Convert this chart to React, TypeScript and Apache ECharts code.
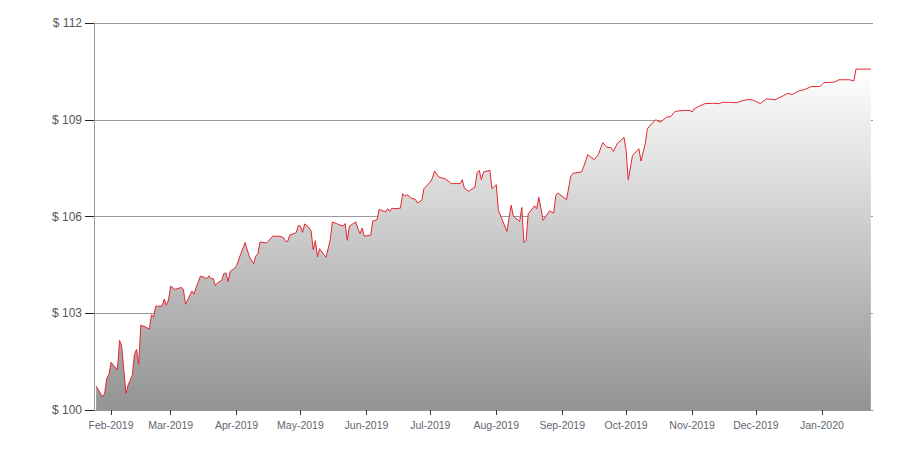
import React, { useEffect, useRef } from "react";
import * as echarts from "echarts";

const dates: string[] = [
  "2019-01-25","2019-01-28","2019-01-29","2019-01-30","2019-01-31","2019-02-01","2019-02-04","2019-02-05","2019-02-06","2019-02-08",
  "2019-02-09","2019-02-11","2019-02-12","2019-02-13","2019-02-14","2019-02-15","2019-02-17","2019-02-19","2019-02-20","2019-02-21",
  "2019-02-22","2019-02-25","2019-02-26","2019-02-27","2019-02-28","2019-03-01","2019-03-03","2019-03-06","2019-03-07","2019-03-08",
  "2019-03-11","2019-03-12","2019-03-13","2019-03-15","2019-03-17","2019-03-18","2019-03-19","2019-03-20","2019-03-21","2019-03-22",
  "2019-03-23","2019-03-25","2019-03-26","2019-03-27","2019-03-28","2019-03-29","2019-03-31","2019-04-01","2019-04-03","2019-04-05",
  "2019-04-07","2019-04-09","2019-04-10","2019-04-11","2019-04-12","2019-04-15","2019-04-16","2019-04-18","2019-04-21","2019-04-23",
  "2019-04-24","2019-04-25","2019-04-26","2019-04-28","2019-04-29","2019-04-30","2019-05-01","2019-05-02","2019-05-03","2019-05-05",
  "2019-05-06","2019-05-07","2019-05-08","2019-05-09","2019-05-10","2019-05-13","2019-05-15","2019-05-16","2019-05-18","2019-05-21",
  "2019-05-22","2019-05-23","2019-05-24","2019-05-27","2019-05-28","2019-05-29","2019-05-30","2019-05-31","2019-06-03","2019-06-04",
  "2019-06-06","2019-06-07","2019-06-10","2019-06-11","2019-06-12","2019-06-13","2019-06-14","2019-06-17","2019-06-18","2019-06-19",
  "2019-06-20","2019-06-22","2019-06-24","2019-06-25","2019-06-27","2019-06-28","2019-07-01","2019-07-02","2019-07-03","2019-07-05",
  "2019-07-08","2019-07-11","2019-07-14","2019-07-15","2019-07-16","2019-07-17","2019-07-19","2019-07-22","2019-07-23","2019-07-24",
  "2019-07-25","2019-07-26","2019-07-29","2019-07-30","2019-08-01","2019-08-02","2019-08-06","2019-08-08","2019-08-09","2019-08-12",
  "2019-08-13","2019-08-14","2019-08-15","2019-08-16","2019-08-19","2019-08-20","2019-08-21","2019-08-23","2019-08-26","2019-08-28",
  "2019-08-29","2019-08-30","2019-09-03","2019-09-05","2019-09-06","2019-09-10","2019-09-11","2019-09-13","2019-09-14","2019-09-16",
  "2019-09-18","2019-09-20","2019-09-22","2019-09-24","2019-09-25","2019-09-27","2019-09-29","2019-09-30","2019-10-01","2019-10-02",
  "2019-10-04","2019-10-07","2019-10-08","2019-10-10","2019-10-11","2019-10-13","2019-10-15","2019-10-17","2019-10-20","2019-10-22",
  "2019-10-24","2019-10-28","2019-10-31","2019-11-01","2019-11-02","2019-11-04","2019-11-07","2019-11-11","2019-11-14","2019-11-15",
  "2019-11-18","2019-11-22","2019-11-25","2019-11-28","2019-11-30","2019-12-03","2019-12-06","2019-12-10","2019-12-14","2019-12-16",
  "2019-12-18","2019-12-21","2019-12-24","2019-12-27","2019-12-31","2020-01-02","2020-01-07","2020-01-09","2020-01-14","2020-01-16",
  "2020-01-17","2020-01-24",
];

const values: number[] = [
  100.74,100.41,100.52,100.98,101.10,101.48,101.24,102.16,101.98,100.52,
  100.77,101.08,101.72,101.88,101.42,102.63,102.58,102.51,102.95,102.89,
  103.22,103.22,103.44,103.25,103.41,103.84,103.74,103.80,103.74,103.28,
  103.69,103.59,103.80,104.15,104.11,104.07,104.16,104.07,104.08,103.86,
  103.94,104.02,104.23,104.25,103.98,104.30,104.39,104.48,104.85,105.19,
  104.75,104.54,104.77,104.85,105.21,105.18,105.24,105.39,105.39,105.35,
  105.23,105.23,105.43,105.47,105.50,105.72,105.70,105.51,105.77,105.66,
  105.55,104.97,105.25,104.75,105.00,104.73,105.28,105.83,105.78,105.70,
  105.78,105.26,105.70,105.83,105.62,105.47,105.64,105.39,105.42,105.86,
  105.90,106.22,106.14,106.24,106.16,106.26,106.24,106.26,106.71,106.63,
  106.68,106.57,106.53,106.42,106.50,106.86,107.07,107.19,107.41,107.22,
  107.17,107.02,107.02,107.02,107.14,106.88,106.78,106.91,107.36,107.43,
  107.14,107.38,107.43,106.86,106.99,106.19,105.54,106.35,106.01,105.85,
  106.28,105.19,105.26,106.08,106.33,106.24,106.60,105.88,106.17,106.11,
  106.66,106.73,106.52,107.25,107.34,107.38,107.53,107.92,107.86,107.76,
  107.93,108.29,108.15,108.13,108.02,108.28,108.38,108.46,108.05,107.14,
  107.89,108.10,107.72,108.26,108.72,108.88,109.00,108.92,109.08,109.10,
  109.26,109.29,109.29,109.24,109.34,109.41,109.50,109.51,109.50,109.54,
  109.54,109.53,109.60,109.63,109.60,109.50,109.65,109.62,109.75,109.82,
  109.78,109.89,109.94,110.03,110.03,110.15,110.17,110.24,110.24,110.20,
  110.57,110.57,
];

const monthTicks: string[] = [
  "2019-02-01","2019-03-01","2019-04-01","2019-05-01","2019-06-01","2019-07-01",
  "2019-08-01","2019-09-01","2019-10-01","2019-11-01","2019-12-01","2020-01-01",
];
const monthNames: string[] = ["Jan","Feb","Mar","Apr","May","Jun","Jul","Aug","Sep","Oct","Nov","Dec"];
const yTicks = { min: 100, max: 112, interval: 3 };
const xRange = { min: "2019-01-24", max: "2020-01-25" };

function toTime(s: string): number {
  const [y, m, d] = s.split("-").map(Number);
  return new Date(y, m - 1, d).getTime();
}

export default function App() {
  const ref = useRef<HTMLDivElement>(null);
  useEffect(() => {
    if (!ref.current) return;
    const chart = echarts.init(ref.current, undefined, { renderer: "svg" });
    const tickTimes = monthTicks.map(toTime);
    chart.setOption({
      animation: false,
      backgroundColor: "#ffffff",
      grid: { left: 94, right: 27, top: 23, bottom: 40, containLabel: false },
      xAxis: {
        type: "value",
        min: toTime(xRange.min),
        max: toTime(xRange.max),
        axisLine: { show: true, lineStyle: { color: "#999999", width: 1 } },
        axisTick: { show: true, length: 5, lineStyle: { color: "#333333" }, customValues: tickTimes },
        axisLabel: {
          customValues: tickTimes,
          color: "#5f6670",
          fontSize: 10.5,
          fontFamily: "Liberation Sans, Arial, sans-serif",
          margin: 9,
          formatter: (v: number) => {
            const d = new Date(v);
            return monthNames[d.getMonth()] + "-" + d.getFullYear();
          },
        },
        splitLine: { show: false },
      },
      yAxis: {
        type: "value",
        min: yTicks.min,
        max: yTicks.max,
        interval: yTicks.interval,
        axisLine: { show: true, lineStyle: { color: "#999999", width: 1 } },
        axisTick: { show: true, length: 9, lineStyle: { color: "#222222" } },
        axisLabel: {
          color: "#4f5a55",
          fontSize: 12,
          fontFamily: "Liberation Sans, Arial, sans-serif",
          margin: 12,
          formatter: (v: number) => "$ " + v,
        },
        splitLine: { show: true, lineStyle: { color: "#999999", width: 1 } },
      },
      series: [
        {
          type: "line",
          data: dates.map((d, i) => [toTime(d), values[i]]),
          showSymbol: false,
          symbol: "none",
          lineStyle: { color: "#e3262f", width: 1 },
          areaStyle: {
            origin: "start",
            opacity: 1,
            color: new echarts.graphic.LinearGradient(0, 0, 0, 1, [
              { offset: 0, color: "#ffffff" },
              { offset: 1, color: "#939393" },
            ]),
          },
        },
      ],
    });
    return () => chart.dispose();
  }, []);
  return (
    <div
      ref={ref}
      style={{ position: "fixed", left: 0, top: 0, width: 900, height: 450, background: "#fff" }}
    />
  );
}
